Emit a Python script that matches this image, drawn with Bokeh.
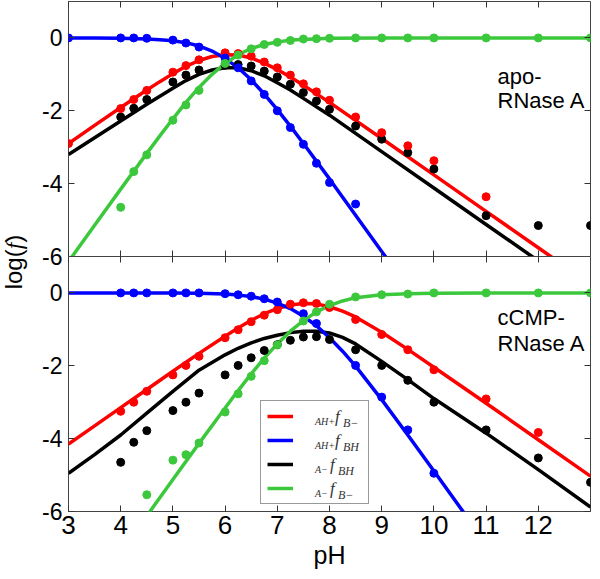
from bokeh.plotting import figure
from bokeh.layouts import column, row
from bokeh.models import (Range1d, LinearAxis, FixedTicker, Label, Legend,
                          LegendItem, Div)
from bokeh.embed import file_html
from bokeh.resources import INLINE

# ---------------- data ----------------
# top panel (apo-RNase A): fitted curves
ph_fit_top = [3, 3.5, 4, 4.5, 4.75, 5, 5.25, 5.5, 5.75, 6, 6.25, 6.5, 6.75, 7,
              7.25, 7.5, 8, 9, 10, 11, 12, 13]
blue_fit_top = [0, 0, -0.01, -0.03, -0.05, -0.08, -0.13, -0.22, -0.36, -0.56,
                -0.82, -1.15, -1.54, -1.97, -2.42, -2.90, -3.87, -5.86, -7.86,
                -9.86, -11.86, -13.86]
red_fit_top = [-2.90, -2.40, -1.91, -1.43, -1.20, -0.98, -0.78, -0.62, -0.51,
               -0.46, -0.47, -0.55, -0.69, -0.87, -1.07, -1.30, -1.77, -2.76,
               -3.76, -4.76, -5.76, -6.76]
black_fit_top = [-3.20, -2.74, -2.28, -1.82, -1.60, -1.38, -1.17, -1.00, -0.88,
                 -0.82, -0.82, -0.90, -1.04, -1.23, -1.43, -1.66, -2.12, -3.12,
                 -4.12, -5.12, -6.12, -7.12]
green_fit_top = [-6.14, -5.14, -4.15, -3.17, -2.69, -2.22, -1.77, -1.36, -1.00,
                 -0.70, -0.46, -0.29, -0.18, -0.11, -0.06, -0.04, -0.01, 0, 0,
                 0, 0, 0]

# top panel: measured points
blue_ph_top = [3, 4, 4.25, 4.5, 5, 5.25, 5.5, 6, 6.25, 6.5, 6.75, 7, 7.25,
               7.5, 7.75, 8, 8.5]
blue_pts_top = [0, 0, 0, -0.01, -0.06, -0.14, -0.25, -0.55, -0.82, -1.18,
                -1.55, -2.0, -2.46, -2.92, -3.44, -3.97, -4.56]
red_ph_top = [3, 4, 4.25, 4.5, 5, 5.25, 5.5, 6, 6.25, 6.5, 6.75, 7, 7.25, 7.5,
              7.75, 8, 8.5, 9, 9.5, 10, 11]
red_pts_top = [-2.9, -1.94, -1.69, -1.44, -0.94, -0.76, -0.6, -0.41, -0.43,
               -0.5, -0.66, -0.82, -1.02, -1.26, -1.48, -1.71, -2.17, -2.6,
               -2.96, -3.37, -4.36]
black_ph_top = [4, 4.25, 4.5, 5, 5.25, 5.5, 6, 6.25, 6.5, 6.75, 7, 7.25, 7.5,
                7.75, 8, 8.5, 9, 9.5, 10, 11, 12, 13]
black_pts_top = [-2.17, -1.93, -1.69, -1.21, -1.02, -0.88, -0.75, -0.73, -0.77,
                 -0.91, -1.07, -1.27, -1.50, -1.73, -1.96, -2.42, -2.78, -3.15,
                 -3.60, -4.88, -5.15, -5.15]
green_ph_top = [4, 4.25, 4.5, 5, 5.25, 5.5, 6, 6.25, 6.5, 6.75, 7, 7.25, 7.5,
                7.75, 8, 8.5, 9, 9.5, 10, 11, 12, 13]
green_pts_top = [-4.65, -3.67, -3.21, -2.26, -1.84, -1.44, -0.70, -0.47, -0.30,
                 -0.18, -0.12, -0.07, -0.03, -0.02, -0.01, 0, 0, 0, 0, 0, 0, 0]

# bottom panel (cCMP-RNase A): fitted curves
ph_fit_bot = [3, 3.5, 4, 4.5, 5, 5.5, 6, 6.25, 6.5, 6.75, 7, 7.25, 7.5, 7.75,
              8, 8.25, 8.5, 9, 9.5, 10, 11, 12, 13]
red_fit_bot = [-4.15, -3.65, -3.15, -2.65, -2.15, -1.66, -1.19, -0.96, -0.75,
               -0.57, -0.43, -0.33, -0.29, -0.30, -0.38, -0.50, -0.66, -1.08,
               -1.55, -2.04, -3.03, -4.03, -5.03]
blue_fit_bot = [0, 0, 0, 0, 0, -0.01, -0.03, -0.06, -0.10, -0.17, -0.28, -0.43,
                -0.64, -0.90, -1.23, -1.60, -2.01, -2.93, -3.90, -4.89, -6.88,
                -8.88, -10.88]
black_fit_bot = [-4.95, -4.44, -3.90, -3.30, -2.70, -2.12, -1.70, -1.52, -1.37,
                 -1.25, -1.16, -1.09, -1.05, -1.05, -1.10, -1.22, -1.40, -1.88,
                 -2.38, -2.90, -3.85, -4.85, -5.88]
green_fit_bot = [-9.12, -8.12, -7.12, -6.12, -5.12, -4.13, -3.16, -2.68, -2.22,
                 -1.79, -1.40, -1.05, -0.76, -0.52, -0.35, -0.22, -0.13, -0.05,
                 -0.02, -0.01, 0, 0, 0]

# bottom panel: measured points
blue_ph_bot = [4, 4.25, 4.5, 5, 5.25, 5.5, 6, 6.25, 6.5, 6.75, 7, 7.5, 7.75,
               8.5, 9, 9.5, 10]
blue_pts_bot = [0, 0, 0, 0, 0, 0, -0.02, -0.05, -0.09, -0.16, -0.25, -0.57,
                -0.84, -1.99, -2.86, -3.76, -4.95]
red_ph_bot = [4, 4.25, 4.5, 5, 5.25, 5.5, 6, 6.25, 6.5, 6.75, 7, 7.25, 7.5,
              7.75, 8, 8.5, 9, 9.5, 10, 11, 12]
red_pts_bot = [-3.25, -3.0, -2.70, -2.25, -1.99, -1.74, -1.23, -1.01, -0.79,
               -0.61, -0.46, -0.31, -0.27, -0.29, -0.40, -0.73, -1.14, -1.56,
               -2.11, -2.91, -3.83]
black_ph_bot = [4, 4.25, 4.5, 5, 5.25, 5.5, 6, 6.25, 6.5, 6.75, 7, 7.25, 7.5,
                7.75, 8, 8.5, 9, 9.5, 10, 11, 12, 13]
black_pts_bot = [-4.65, -4.10, -3.78, -3.23, -3.0, -2.75, -2.25, -1.99, -1.78,
                 -1.58, -1.42, -1.30, -1.21, -1.20, -1.28, -1.56, -1.99, -2.40,
                 -3.0, -3.76, -4.53, -5.2]
green_ph_bot = [4.5, 5, 5.25, 5.5, 6, 6.25, 6.5, 6.75, 7, 7.5, 7.75, 8, 8.5, 9,
                9.5, 10, 11, 12, 13]
green_pts_bot = [-5.54, -4.59, -4.44, -4.12, -3.27, -2.77, -2.29, -1.86, -1.43,
                 -0.77, -0.52, -0.31, -0.11, -0.05, -0.03, 0, 0, 0, 0]

x_ticks = [3, 4, 5, 6, 7, 8, 9, 10, 11, 12]
y_ticks = [0, -2, -4, -6]
y_tick_text = ["0", "-2", "-4", "-6"]
panel_names = [["apo-", "RNase A"], ["cCMP-", "RNase A"]]
legend_sub1 = ["AH+", "AH+", "A\u2212", "A\u2212"]
legend_sub2 = ["B\u2212", "BH", "BH", "B\u2212"]

RED, BLUE, BLACK, GREEN = "#ff0000", "#0000ff", "#000000", "#3cc83c"
FONT = "Liberation Sans"
FRAME_W, FRAME_H = 522, 255
F_OFFSETS = [20, 20, 15, 15]
SUB2_OFFSETS = [28, 28, 23, 23]


def add_axes(p, show_x_labels):
    ylab = {t: s for t, s in zip(y_ticks, y_tick_text)}
    blank_y = {t: "" for t in y_ticks}
    blank_x = {t: "" for t in x_ticks}
    specs = [("left", ylab, FixedTicker(ticks=y_ticks)),
             ("right", blank_y, FixedTicker(ticks=y_ticks)),
             ("above", blank_x, FixedTicker(ticks=x_ticks)),
             ("below", None if show_x_labels else blank_x,
              FixedTicker(ticks=x_ticks))]
    for side, labels, ticker in specs:
        ax = LinearAxis(ticker=ticker)
        ax.axis_line_color = None
        ax.major_tick_in = 6
        ax.major_tick_out = 0
        ax.major_tick_line_color = "#333333"
        ax.major_tick_line_width = 1
        ax.minor_tick_line_color = None
        ax.major_label_text_font = FONT
        ax.major_label_text_color = "black"
        if labels is not None:
            ax.major_label_overrides = labels
        if side == "left":
            ax.major_label_text_font_size = "23px"
            ax.major_label_standoff = 6
        elif side == "below" and show_x_labels:
            ax.major_label_text_font_size = "26px"
            ax.major_label_standoff = 4
            ax.axis_label = "pH"
            ax.axis_label_text_font = FONT
            ax.axis_label_text_font_size = "25px"
            ax.axis_label_text_font_style = "normal"
            ax.axis_label_text_color = "black"
            ax.axis_label_standoff = 4
        else:
            ax.major_label_text_font_size = "1px"
            ax.major_label_standoff = 0
        p.add_layout(ax, side)


def make_panel(top):
    p = figure(frame_width=FRAME_W, frame_height=FRAME_H,
               x_range=Range1d(3, 13), y_range=Range1d(-6, 1),
               x_axis_location=None, y_axis_location=None,
               output_backend="svg", toolbar_location=None,
               min_border_left=38, min_border_right=2,
               min_border_top=1 if top else 14,
               min_border_bottom=14 if top else 0)
    p.xgrid.visible = False
    p.ygrid.visible = False
    p.outline_line_color = "#444444"
    p.outline_line_width = 1
    add_axes(p, not top)
    return p


def draw(p, fits, pts):
    rends = []
    for (xs, ys, col) in fits:
        r = p.line(xs, ys, line_color=col, line_width=3.5)
        rends.append(r)
    for (xs, ys, col) in pts:
        p.scatter(xs, ys, size=8, fill_color=col, line_color=col)
    return rends


p1 = make_panel(True)
draw(p1,
     [(ph_fit_top, black_fit_top, BLACK), (ph_fit_top, red_fit_top, RED),
      (ph_fit_top, blue_fit_top, BLUE), (ph_fit_top, green_fit_top, GREEN)],
     [(black_ph_top, black_pts_top, BLACK), (red_ph_top, red_pts_top, RED),
      (blue_ph_top, blue_pts_top, BLUE), (green_ph_top, green_pts_top, GREEN)])

p2 = make_panel(False)
rb = draw(p2,
          [(ph_fit_bot, black_fit_bot, BLACK), (ph_fit_bot, red_fit_bot, RED),
           (ph_fit_bot, blue_fit_bot, BLUE), (ph_fit_bot, green_fit_bot, GREEN)],
          [(black_ph_bot, black_pts_bot, BLACK), (red_ph_bot, red_pts_bot, RED),
           (blue_ph_bot, blue_pts_bot, BLUE), (green_ph_bot, green_pts_bot, GREEN)])

# panel names
for p, (l1, l2) in zip([p1, p2], panel_names):
    y1, y2 = (-1.05, -1.72) if p is p1 else (-0.68, -1.39)
    for txt, yy in [(l1, y1), (l2, y2)]:
        p.add_layout(Label(x=11.22, y=yy, text=txt, text_font=FONT,
                           text_font_size="22px", text_color="black",
                           text_baseline="alphabetic"))

# legend (bottom panel)
black_r, red_r, blue_r, green_r = rb
leg = Legend(items=[LegendItem(label=" ", renderers=[r])
                    for r in [red_r, blue_r, black_r, green_r]],
             location=(192, 7), orientation="vertical")
leg.border_line_color = "#333333"
leg.border_line_width = 1
leg.background_fill_alpha = 0
leg.glyph_width = 26
leg.glyph_height = 18
leg.label_height = 18
leg.label_width = 63
leg.label_standoff = 6
leg.spacing = 6
leg.padding = 6
leg.margin = 0
leg.label_text_font_size = "9px"
p2.add_layout(leg)

row_y = [-3.42, -4.08, -4.74, -5.40]
for yy, s1, s2, fo, so in zip(row_y, legend_sub1, legend_sub2,
                              F_OFFSETS, SUB2_OFFSETS):
    p2.add_layout(Label(x=7.72, y=yy, text=s1, y_offset=-4,
                        text_font="Liberation Serif",
                        text_font_style="italic", text_font_size="10px",
                        text_color="#333333", text_baseline="middle"))
    p2.add_layout(Label(x=7.72, y=yy, text="f", x_offset=fo, y_offset=1,
                        text_font="Liberation Serif",
                        text_font_style="italic", text_font_size="17px",
                        text_color="#333333", text_baseline="middle"))
    p2.add_layout(Label(x=7.72, y=yy, text=s2, x_offset=so, y_offset=-5,
                        text_font="Liberation Serif",
                        text_font_style="italic", text_font_size="12px",
                        text_color="#333333", text_baseline="middle"))

p2.border_fill_alpha = 0
p2.styles = {"margin-top": "-28px"}

ylabel = Div(text=('<div style="width:100px;height:28px;line-height:28px;'
                   'text-align:center;white-space:nowrap;'
                   'transform-origin:50% 50%;'
                   'transform:translate(-41px,243px) rotate(-90deg);'
                   'font-family:\'Liberation Sans\';font-size:24px;color:black;">'
                   'log(<i style="font-family:\'Liberation Serif\';">f</i>)</div>'),
             width=20, height=500)

layout = row(ylabel, column(p1, p2, spacing=0), spacing=0)

open("out.html", "w").write(file_html(layout, INLINE))
